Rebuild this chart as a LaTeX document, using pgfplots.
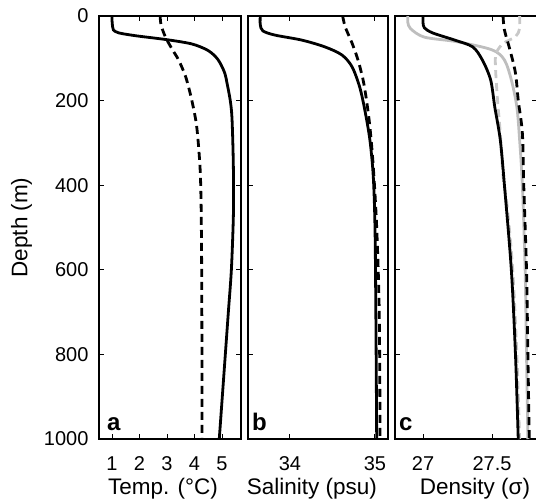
\documentclass[border=0pt]{standalone}
\usepackage{fontspec}
\setmainfont{Liberation Sans}
\usepackage{pgfplots}
\pgfplotsset{compat=1.18}
\definecolor{lgray}{RGB}{190,190,190}
\definecolor{dgray}{RGB}{200,200,200}
\tikzset{letter/.style={anchor=base west, font=\fontsize{24}{28}\selectfont\bfseries, inner sep=0pt, yshift=9pt}}
\pgfplotsset{
  prof/.style={
    scale only axis, height=423pt, y dir=reverse,
    ymin=0, ymax=1000, ytick={0,200,400,600,800,1000},
    xtick pos=both, ytick pos=both, tick align=inside,
    major tick length=5pt,
    axis line style={line width=1.2pt}, every tick/.style={black, line width=1pt},
    tick label style={font=\fontsize{20}{23}\selectfont},
    xticklabel style={yshift=-14pt},
    yticklabel style={xshift=-7pt},
    label style={font=\fontsize{22.5}{26}\selectfont},
    ylabel style={yshift=5pt},
    /pgf/number format/assume math mode=true,
    /pgf/number format/1000 sep={},
    anchor=south west,
  },
  sol/.style={black, line width=2.8pt, smooth},
  das/.style={black, line width=2.8pt, smooth, dash pattern=on 8pt off 5pt},
}
\begin{document}
\begin{tikzpicture}
\useasboundingbox (0,0) rectangle (536pt,501pt);
% panel a
\begin{axis}[prof, at={(99pt,62pt)}, width=142pt,
  xmin=0.527, xmax=5.69, xtick={1,2,3,4,5},
  ylabel={Depth (m)}, xlabel={Temp. (°C)}, xlabel style={yshift=-1pt, xshift=-7pt}]
\addplot[sol] coordinates {(1.0,0) (1.0,10) (1.02,25) (1.05,33) (1.25,40) (1.9,47) (3.0,56) (3.9,66) (4.45,80) (4.75,95) (4.93,111) (5.1,135) (5.18,158) (5.3,200) (5.36,239) (5.4,317) (5.42,400) (5.41,480) (5.34,600) (5.23,700) (5.12,800) (5.01,900) (4.9,1000)};
\addplot[das] coordinates {(2.75,0) (2.78,20) (2.88,40) (3.0,57) (3.2,80) (3.42,104) (3.68,144) (3.9,199) (4.08,262) (4.2,357) (4.24,450) (4.26,600) (4.27,800) (4.27,1000)};
\node[letter, xshift=8pt] at (rel axis cs:0,0) {a};
\end{axis}
% panel b
\begin{axis}[prof, at={(248pt,62pt)}, width=140pt,
  xmin=33.506, xmax=35.153, xtick={34,35}, yticklabels={},
  xlabel={Salinity (psu)}, xlabel style={yshift=-1pt, xshift=-6pt}]
\addplot[sol] coordinates {(33.65,0) (33.65,20) (33.68,35) (33.82,45) (34.14,57) (34.41,73) (34.61,92) (34.73,120) (34.82,168) (34.88,222) (34.94,293) (34.98,380) (35.0,500) (35.01,700) (35.02,1000)};
\addplot[das] coordinates {(34.62,0) (34.65,26) (34.73,64) (34.80,104) (34.86,151) (34.9,199) (34.94,262) (34.98,357) (35.02,500) (35.05,700) (35.06,1000)};
\node[letter, xshift=4pt] at (rel axis cs:0,0) {b};
\end{axis}
% panel c
\begin{axis}[prof, at={(395pt,62pt)}, width=142pt,
  xmin=26.797, xmax=27.826, xtick={27,27.5}, yticklabels={},
  xlabel={Density (σ)}, xlabel style={yshift=-1pt, xshift=9pt}]
\addplot[lgray, line width=2.8pt, smooth] coordinates {(26.89,0) (26.89,15) (26.91,30) (27.01,50) (27.25,61) (27.5,80) (27.59,104) (27.64,151) (27.68,215) (27.7,293) (27.72,400) (27.74,600) (27.75,800) (27.76,1000)};
\addplot[dgray, line width=2.8pt, smooth, dash pattern=on 8pt off 5pt] coordinates {(27.70,0) (27.70,30) (27.67,49) (27.58,65) (27.53,88) (27.525,120) (27.54,199) (27.56,277) (27.58,380) (27.61,450) (27.65,600) (27.68,800) (27.70,1000)};
\addplot[sol] coordinates {(27.0,0) (27.0,15) (27.01,28) (27.07,40) (27.23,57) (27.36,73) (27.43,104) (27.49,151) (27.52,215) (27.56,293) (27.59,400) (27.64,600) (27.67,800) (27.69,1000)};
\addplot[das] coordinates {(27.58,0) (27.59,33) (27.63,80) (27.67,135) (27.69,199) (27.72,277) (27.73,400) (27.75,600) (27.76,800) (27.77,1000)};
\node[letter, xshift=4pt] at (rel axis cs:0,0) {c};
\end{axis}
\end{tikzpicture}
\end{document}
